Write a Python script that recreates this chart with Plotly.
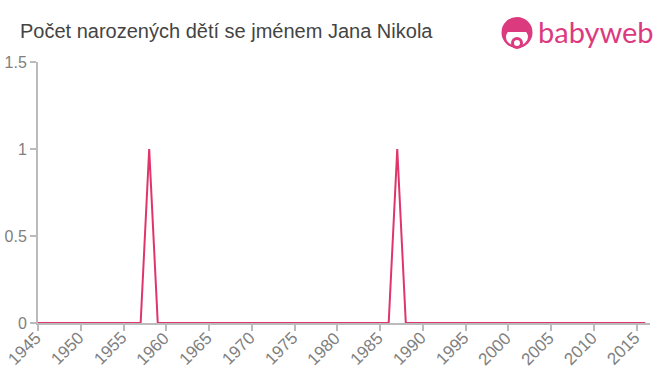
import plotly.graph_objects as go

years = list(range(1945, 2017))
peaks = {1958: 1, 1987: 1}
counts = [peaks.get(y, 0) for y in years]

title = "Počet narozených dětí se jménem Jana Nikola"
x_ticks = list(range(1945, 2016, 5))
y_ticks = [0, 0.5, 1, 1.5]
y_labels = ["0", "0.5", "1", "1.5"]

line_color = "#e0356b"
axis_color = "#bbbbbb"
tick_font_color = "#808080"
logo_color = "#dc3a7f"

W, H = 660, 375
L, R, T, B = 38, 10, 62, 52
PW, PH = W - L - R, H - T - B

def px(x):
    return (x - L) / PW

def py(y):
    return (H - B - y) / PH

fig = go.Figure()
fig.add_trace(go.Scatter(
    x=years, y=counts, mode="lines",
    line=dict(color=line_color, width=2),
    hoverinfo="skip", showlegend=False,
))

annotations = [
    dict(text=title, x=px(18), y=py(31), xref="paper", yref="paper", showarrow=False,
         xanchor="left", yanchor="middle",
         font=dict(size=20, color="#444444")),
    dict(text="babyweb", x=px(536), y=py(32), xref="paper", yref="paper", showarrow=False,
         xanchor="left", yanchor="middle",
         font=dict(size=29, color=logo_color, family="Lato, Arial, sans-serif")),
]
# x tick labels, rotated, placed through the x axis scale
for t in x_ticks:
    annotations.append(dict(
        text=str(t), x=t, xref="x", y=py(326), yref="paper", showarrow=False,
        textangle=-45, xanchor="right", yanchor="top", xshift=10,
        font=dict(size=17, color=tick_font_color),
    ))

fig.update_layout(
    width=W, height=H,
    margin=dict(l=L, r=R, t=T, b=B),
    paper_bgcolor="white", plot_bgcolor="white",
    font=dict(family="Liberation Sans, Arial, sans-serif"),
    xaxis=dict(
        range=[1945, 2016.55], tickmode="array", tickvals=x_ticks,
        showticklabels=False, automargin=False,
        showgrid=False, zeroline=False, showline=True, linecolor=axis_color, linewidth=2,
        ticks="outside", ticklen=6, tickwidth=2, tickcolor=axis_color,
    ),
    yaxis=dict(
        range=[0, 1.5], tickmode="array", tickvals=y_ticks, ticktext=y_labels,
        automargin=False,
        showgrid=False, zeroline=False, showline=True, linecolor=axis_color, linewidth=2,
        ticks="outside", ticklen=6, tickwidth=2, tickcolor=axis_color,
        tickfont=dict(size=16, color=tick_font_color),
    ),
    annotations=annotations,
)

# Logo icon
fig.add_shape(type="circle", xref="paper", yref="paper",
              x0=px(501.5), x1=px(532.5), y0=py(48), y1=py(17),
              fillcolor=logo_color, line=dict(width=0))
fig.add_shape(type="circle", xref="paper", yref="paper",
              x0=px(506), x1=px(528), y0=py(46), y1=py(28),
              fillcolor="white", line=dict(width=0))
fig.add_shape(type="rect", xref="paper", yref="paper",
              x0=px(505), x1=px(529), y0=py(32), y1=py(24),
              fillcolor=logo_color, line=dict(width=0))
fig.add_shape(type="circle", xref="paper", yref="paper",
              x0=px(511), x1=px(523), y0=py(49), y1=py(37),
              fillcolor=logo_color, line=dict(width=0))
fig.add_shape(type="circle", xref="paper", yref="paper",
              x0=px(514), x1=px(520), y0=py(46), y1=py(40),
              fillcolor="white", line=dict(width=0))

fig.write_html("out.html")
